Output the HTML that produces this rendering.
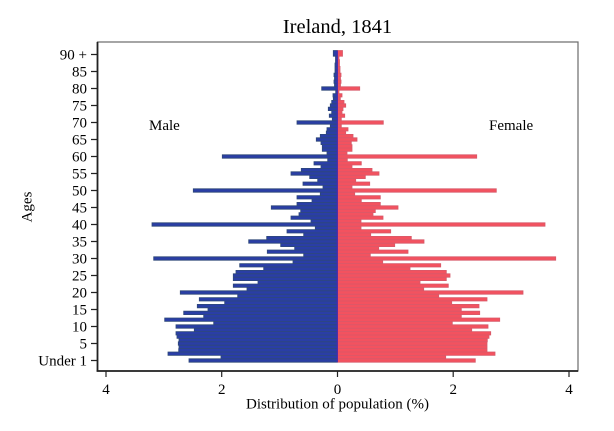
<!DOCTYPE html>
<html><head><meta charset="utf-8"><style>
html,body{margin:0;padding:0;background:#fff;}
svg{display:block;}
text{font-family:"Liberation Serif",serif;fill:#000;}
</style></head><body>
<svg width="614" height="431" viewBox="0 0 614 431" xmlns="http://www.w3.org/2000/svg">
<rect x="0" y="0" width="614" height="431" fill="#fff"/>
<text x="337.5" y="33" font-size="20.5" text-anchor="middle">Ireland, 1841</text>
<rect x="97.5" y="42" width="480.5" height="329" fill="#fff" stroke="#6a6a6a" stroke-width="1.2"/>
<path fill="#2a3ea6" stroke="#2e4878" stroke-width="0.8" d="M337.5 358.8h-148.5v3.4h148.5zm0-3.4h-116.5v3.4h116.5zm0-3.4h-169.5v3.4h169.5zm0-3.4h-158.8v3.4h158.8zm0-3.4h-158.5v3.4h158.5zm0-3.4h-159.2v3.4h159.2zm0-3.4h-158.5v3.4h158.5zm0-3.4h-160.5v3.4h160.5zm0-3.4h-161.5v3.4h161.5zm0-3.4h-143.2v3.4h143.2zm0-3.4h-161.5v3.4h161.5zm0-3.4h-123.8v3.4h123.8zm0-3.4h-172.8v3.4h172.8zm0-3.4h-133.8v3.4h133.8zm0-3.4h-153.8v3.4h153.8zm0-3.4h-129.5v3.4h129.5zm0-3.4h-140.2v3.4h140.2zm0-3.4h-112.8v3.4h112.8zm0-3.4h-138.2v3.4h138.2zm0-3.4h-99.8v3.4h99.8zm0-3.4h-157.2v3.4h157.2zm0-3.4h-90.5v3.4h90.5zm0-3.4h-104.2v3.4h104.2zm0-3.4h-79.5v3.4h79.5zm0-3.4h-104.2v3.4h104.2zm0-3.4h-104.2v3.4h104.2zm0-3.4h-101.5v3.4h101.5zm0-3.4h-73.8v3.4h73.8zm0-3.4h-97.8v3.4h97.8zm0-3.4h-44.5v3.4h44.5zm0-3.4h-183.8v3.4h183.8zm0-3.4h-33.8v3.4h33.8zm0-3.4h-70.2v3.4h70.2zm0-3.4h-42.8v3.4h42.8zm0-3.4h-56.8v3.4h56.8zm0-3.4h-88.8v3.4h88.8zm0-3.4h-70.8v3.4h70.8zm0-3.4h-33.8v3.4h33.8zm0-3.4h-50.5v3.4h50.5zm0-3.4h-22.2v3.4h22.2zm0-3.4h-185.5v3.4h185.5zm0-3.4h-26.5v3.4h26.5zm0-3.4h-46.5v3.4h46.5zm0-3.4h-38.5v3.4h38.5zm0-3.4h-36.8v3.4h36.8zm0-3.4h-66.2v3.4h66.2zm0-3.4h-40.5v3.4h40.5zm0-3.4h-25.5v3.4h25.5zm0-3.4h-40.5v3.4h40.5zm0-3.4h-17.2v3.4h17.2zm0-3.4h-144.2v3.4h144.2zm0-3.4h-14.5v3.4h14.5zm0-3.4h-34.5v3.4h34.5zm0-3.4h-19.8v3.4h19.8zm0-3.4h-27.8v3.4h27.8zm0-3.4h-46.5v3.4h46.5zm0-3.4h-36.2v3.4h36.2zm0-3.4h-16.5v3.4h16.5zm0-3.4h-23.5v3.4h23.5zm0-3.4h-9.8v3.4h9.8zm0-3.4h-115.2v3.4h115.2zm0-3.4h-10.5v3.4h10.5zm0-3.4h-15.2v3.4h15.2zm0-3.4h-15.2v3.4h15.2zm0-3.4h-16.5v3.4h16.5zm0-3.4h-21.2v3.4h21.2zm0-3.4h-17.2v3.4h17.2zm0-3.4h-11.2v3.4h11.2zm0-3.4h-10.5v3.4h10.5zm0-3.4h-7.2v3.4h7.2zm0-3.4h-40.5v3.4h40.5zm0-3.4h-5.2v3.4h5.2zm0-3.4h-8.2v3.4h8.2zm0-3.4h-5.8v3.4h5.8zm0-3.4h-9.2v3.4h9.2zm0-3.4h-7.2v3.4h7.2zm0-3.4h-5.8v3.4h5.8zm0-3.4h-4.2v3.4h4.2zm0-3.4h-4.5v3.4h4.5zm0-3.4h-1.8v3.4h1.8zm0-3.4h-15.8v3.4h15.8zm0-3.4h-3v3.4h3zm0-3.4h-3.5v3.4h3.5zm0-3.4h-3v3.4h3zm0-3.4h-3.5v3.4h3.5zm0-3.4h-2.5v3.4h2.5zm0-3.4h-2.5v3.4h2.5zm0-3.4h-2.5v3.4h2.5zm0-3.4h-2v3.4h2zm0-3.4h-2v3.4h2zM337.5 50.5h-4.2v5.7h4.2z"/>
<path fill="#f3525f" stroke="#d65a6a" stroke-width="0.8" d="M337.5 358.8h137.8v3.4h-137.8zm0-3.4h108.2v3.4h-108.2zm0-3.4h157.5v3.4h-157.5zm0-3.4h149.5v3.4h-149.5zm0-3.4h149.5v3.4h-149.5zm0-3.4h149.5v3.4h-149.5zm0-3.4h149.8v3.4h-149.8zm0-3.4h151.5v3.4h-151.5zm0-3.4h153.2v3.4h-153.2zm0-3.4h134.2v3.4h-134.2zm0-3.4h150.5v3.4h-150.5zm0-3.4h114.8v3.4h-114.8zm0-3.4h162.2v3.4h-162.2zm0-3.4h123.8v3.4h-123.8zm0-3.4h142.2v3.4h-142.2zm0-3.4h123.8v3.4h-123.8zm0-3.4h141.5v3.4h-141.5zm0-3.4h114.2v3.4h-114.2zm0-3.4h149.5v3.4h-149.5zm0-3.4h101.2v3.4h-101.2zm0-3.4h185.5v3.4h-185.5zm0-3.4h86.2v3.4h-86.2zm0-3.4h110.8v3.4h-110.8zm0-3.4h82.5v3.4h-82.5zm0-3.4h108.8v3.4h-108.8zm0-3.4h112.5v3.4h-112.5zm0-3.4h108.8v3.4h-108.8zm0-3.4h72.5v3.4h-72.5zm0-3.4h103.2v3.4h-103.2zm0-3.4h45.2v3.4h-45.2zm0-3.4h218.2v3.4h-218.2zm0-3.4h32.8v3.4h-32.8zm0-3.4h70.5v3.4h-70.5zm0-3.4h41.2v3.4h-41.2zm0-3.4h57.2v3.4h-57.2zm0-3.4h86.5v3.4h-86.5zm0-3.4h73.8v3.4h-73.8zm0-3.4h33.2v3.4h-33.2zm0-3.4h53.2v3.4h-53.2zm0-3.4h23.5v3.4h-23.5zm0-3.4h207.5v3.4h-207.5zm0-3.4h23.5v3.4h-23.5zm0-3.4h45.5v3.4h-45.5zm0-3.4h35.5v3.4h-35.5zm0-3.4h37.8v3.4h-37.8zm0-3.4h60.5v3.4h-60.5zm0-3.4h42.8v3.4h-42.8zm0-3.4h23.8v3.4h-23.8zm0-3.4h42.8v3.4h-42.8zm0-3.4h17.2v3.4h-17.2zm0-3.4h158.8v3.4h-158.8zm0-3.4h14.5v3.4h-14.5zm0-3.4h32.2v3.4h-32.2zm0-3.4h18.2v3.4h-18.2zm0-3.4h27.8v3.4h-27.8zm0-3.4h41.5v3.4h-41.5zm0-3.4h34.5v3.4h-34.5zm0-3.4h14.5v3.4h-14.5zm0-3.4h23.8v3.4h-23.8zm0-3.4h9.8v3.4h-9.8zm0-3.4h139.2v3.4h-139.2zm0-3.4h9.5v3.4h-9.5zm0-3.4h14.5v3.4h-14.5zm0-3.4h14.5v3.4h-14.5zm0-3.4h13.8v3.4h-13.8zm0-3.4h19.5v3.4h-19.5zm0-3.4h15.5v3.4h-15.5zm0-3.4h8.2v3.4h-8.2zm0-3.4h10.5v3.4h-10.5zm0-3.4h3.8v3.4h-3.8zm0-3.4h45.8v3.4h-45.8zm0-3.4h3.8v3.4h-3.8zm0-3.4h7.2v3.4h-7.2zm0-3.4h4.5v3.4h-4.5zm0-3.4h5.5v3.4h-5.5zm0-3.4h8.2v3.4h-8.2zm0-3.4h6.5v3.4h-6.5zm0-3.4h2.8v3.4h-2.8zm0-3.4h4.5v3.4h-4.5zm0-3.4h1.5v3.4h-1.5zm0-3.4h22.2v3.4h-22.2zm0-3.4h3v3.4h-3zm0-3.4h3.5v3.4h-3.5zm0-3.4h3v3.4h-3zm0-3.4h3.5v3.4h-3.5zm0-3.4h2.5v3.4h-2.5zm0-3.4h2.5v3.4h-2.5zm0-3.4h2v3.4h-2zm0-3.4h2v3.4h-2zm0-3.4h1.5v3.4h-1.5zM337.5 50.5h5v5.7h-5z"/>
<line x1="337.3" y1="50.5" x2="337.3" y2="362.2" stroke="#4a2ca8" stroke-width="1.3"/>
<line x1="97.5" y1="42" x2="97.5" y2="371.5" stroke="#222" stroke-width="1.8"/>
<line x1="96.6" y1="371" x2="578" y2="371" stroke="#222" stroke-width="1.8"/>
<path stroke="#222" stroke-width="1.2" fill="none" d="M91 360.5h6M91 343.5h6M91 326.5h6M91 309.5h6M91 292.5h6M91 275.5h6M91 258.5h6M91 241.5h6M91 224.5h6M91 207.5h6M91 190.5h6M91 173.5h6M91 156.5h6M91 139.5h6M91 122.5h6M91 105.5h6M91 88.5h6M91 71.5h6M91 54.5h6M106 371v6M221.7 371v6M337.5 371v6M453.2 371v6M569 371v6"/>
<g font-size="15" text-anchor="end">
<text x="87" y="365.5">Under 1</text>
<text x="87" y="348.5">5</text>
<text x="87" y="331.5">10</text>
<text x="87" y="314.5">15</text>
<text x="87" y="297.5">20</text>
<text x="87" y="280.5">25</text>
<text x="87" y="263.5">30</text>
<text x="87" y="246.5">35</text>
<text x="87" y="229.5">40</text>
<text x="87" y="212.5">45</text>
<text x="87" y="195.5">50</text>
<text x="87" y="178.5">55</text>
<text x="87" y="161.5">60</text>
<text x="87" y="144.5">65</text>
<text x="87" y="127.5">70</text>
<text x="87" y="110.5">75</text>
<text x="87" y="93.5">80</text>
<text x="87" y="76.5">85</text>
<text x="87" y="59.5">90 +</text>
</g>
<g font-size="15" text-anchor="middle">
<text x="106" y="394">4</text>
<text x="221.7" y="394">2</text>
<text x="337.5" y="394">0</text>
<text x="453.2" y="394">2</text>
<text x="569" y="394">4</text>
<text x="337.5" y="408.5">Distribution of population (%)</text>
<text transform="translate(31.5,207) rotate(-90)">Ages</text>
</g>
<text x="149" y="130" font-size="15">Male</text>
<text x="489" y="130" font-size="15">Female</text>
</svg>
</body></html>
